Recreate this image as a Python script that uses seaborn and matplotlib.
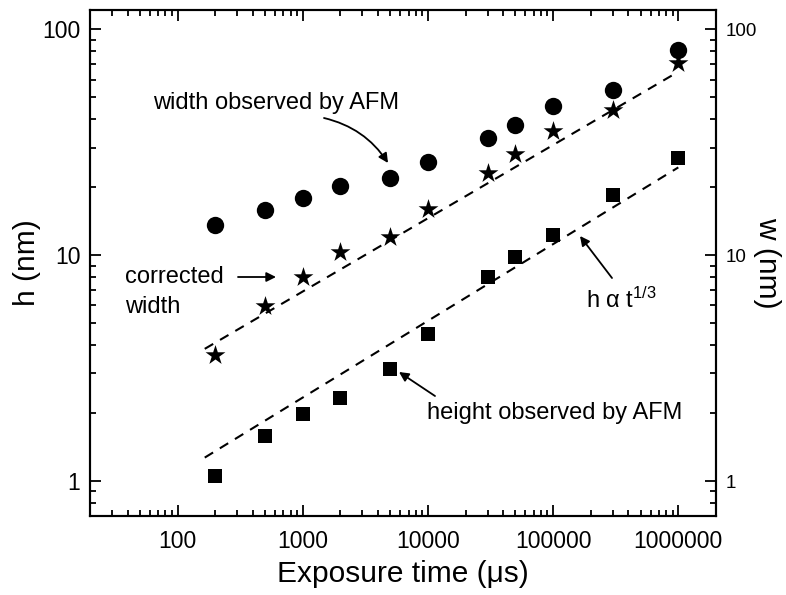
import matplotlib
matplotlib.use("Agg")
import matplotlib.pyplot as plt
import seaborn as sns
import pandas as pd
from matplotlib.ticker import LogLocator, NullFormatter, FixedLocator, FixedFormatter

# ---- data ----
exposure = [200, 500, 1000, 2000, 5000, 10000, 30000, 50000, 100000, 300000, 1000000]
width_afm = [13.6, 15.9, 17.9, 20.3, 22.1, 26.0, 33.1, 37.9, 45.6, 54.0, 81.3]
width_corrected = [3.62, 5.97, 8.03, 10.3, 12.0, 16.0, 23.1, 28.1, 35.6, 44.0, 71.0]
height_afm = [1.05, 1.58, 1.99, 2.34, 3.15, 4.50, 8.03, 9.84, 12.3, 18.5, 27.0]
fit_x = [165, 1000000]
fit_width = [3.85, 65.0]
fit_height = [1.27, 24.5]
x_ticks = [100, 1000, 10000, 100000, 1000000]
x_tick_labels = ["100", "1000", "10000", "100000", "1000000"]
y_ticks = [1, 10, 100]
y_tick_labels = ["1", "10", "100"]

sns.set_style("ticks")
plt.rcParams["font.family"] = ["Liberation Sans", "DejaVu Sans"]
plt.rcParams["mathtext.fontset"] = "custom"
plt.rcParams["mathtext.rm"] = "Liberation Sans"
plt.rcParams["mathtext.default"] = "regular"
for k in ["text.color", "axes.labelcolor", "xtick.color", "ytick.color", "axes.edgecolor"]:
    plt.rcParams[k] = "black"

df = pd.DataFrame({"t": exposure, "w_afm": width_afm, "w_corr": width_corrected, "h": height_afm})
fit = pd.DataFrame({"t": fit_x, "w": fit_width, "h": fit_height})

fig = plt.figure(figsize=(7.86, 5.95), dpi=100)
ax = fig.add_axes([90/786, 1-516/595, (716-90)/786, (516-10)/595])
ax.set_xscale("log")
ax.set_yscale("log")

dash = (4.7, 3.8)
sns.lineplot(data=fit, x="t", y="w", ax=ax, color="black", lw=1.5, dashes=False)
sns.lineplot(data=fit, x="t", y="h", ax=ax, color="black", lw=1.5, dashes=False)
for ln in ax.lines:
    ln.set_dashes(dash)

sns.scatterplot(data=df, x="t", y="w_afm", ax=ax, marker="o", s=12.5**2, color="black", edgecolor="black", linewidth=0)
sns.scatterplot(data=df, x="t", y="w_corr", ax=ax, marker="*", s=15**2, color="black", edgecolor="black", linewidth=0)
sns.scatterplot(data=df, x="t", y="h", ax=ax, marker="s", s=10.5**2, color="black", edgecolor="black", linewidth=0)

ax.set_xlim(20, 2e6)
ax.set_ylim(0.7, 122)

ax.xaxis.set_major_locator(FixedLocator(x_ticks))
ax.xaxis.set_major_formatter(FixedFormatter(x_tick_labels))
ax.xaxis.set_minor_locator(LogLocator(base=10, subs=range(2, 10), numticks=20))
ax.xaxis.set_minor_formatter(NullFormatter())
ax.yaxis.set_major_locator(FixedLocator(y_ticks))
ax.yaxis.set_major_formatter(FixedFormatter(y_tick_labels))
ax.yaxis.set_minor_locator(LogLocator(base=10, subs=range(2, 10), numticks=20))
ax.yaxis.set_minor_formatter(NullFormatter())

ax.tick_params(which="both", direction="in", top=True, right=False, width=1.3)
ax.tick_params(axis="x", which="major", length=8, labelsize=16.5, pad=10)
ax.tick_params(axis="y", which="major", length=8, labelsize=16.5, pad=7)
ax.tick_params(which="minor", length=4.5)
for s in ax.spines.values():
    s.set_linewidth(1.5)

ax.set_xlabel("Exposure time (μs)", fontsize=21.5, labelpad=5)
ax.set_ylabel("h (nm)", fontsize=21.5, labelpad=1)

ax2 = ax.twinx()
ax2.set_yscale("log")
ax2.set_ylim(ax.get_ylim())
ax2.yaxis.set_major_locator(FixedLocator(y_ticks))
ax2.yaxis.set_major_formatter(FixedFormatter(y_tick_labels))
ax2.yaxis.set_minor_locator(LogLocator(base=10, subs=range(2, 10), numticks=20))
ax2.yaxis.set_minor_formatter(NullFormatter())
ax2.tick_params(which="both", direction="in", width=1.3)
ax2.tick_params(which="major", length=8, labelsize=13.5, pad=7)
ax2.tick_params(which="minor", length=4.5)
ax2.set_ylabel("w (nm)", fontsize=21.5, rotation=270, labelpad=17)
for s in ax2.spines.values():
    s.set_linewidth(1.5)

# ---- annotations (in axes fraction) ----
def fx(px):
    return (px - 90) / (716 - 90)

def fy(py):
    return (516 - py) / (516 - 10)

fs = 17
ax.text(fx(153), fy(103), "width observed by AFM", fontsize=fs, transform=ax.transAxes, va="center", ha="left")
ax.annotate("", xy=(fx(388), fy(163)), xytext=(fx(324), fy(118)), xycoords="axes fraction",
            textcoords="axes fraction",
            arrowprops=dict(arrowstyle="-|>", color="black", lw=1.3, connectionstyle="arc3,rad=-0.2",
                            mutation_scale=14, shrinkA=0, shrinkB=0))
ax.text(fx(125), fy(277), "corrected", fontsize=fs, transform=ax.transAxes, va="center", ha="left")
ax.text(fx(125), fy(307), "width", fontsize=fs, transform=ax.transAxes, va="center", ha="left")
ax.annotate("", xy=(fx(276), fy(277)), xytext=(fx(238), fy(277)), xycoords="axes fraction",
            textcoords="axes fraction",
            arrowprops=dict(arrowstyle="-|>", color="black", lw=1.3, mutation_scale=14, shrinkA=0, shrinkB=0))
ax.text(fx(586), fy(300), r"h α t$^{1/3}$", fontsize=fs, transform=ax.transAxes, va="center", ha="left")
ax.annotate("", xy=(fx(580), fy(236)), xytext=(fx(612), fy(278)), xycoords="axes fraction",
            textcoords="axes fraction",
            arrowprops=dict(arrowstyle="-|>", color="black", lw=1.3, mutation_scale=14, shrinkA=0, shrinkB=0))
ax.text(fx(427), fy(413), "height observed by AFM", fontsize=fs, transform=ax.transAxes, va="center", ha="left")
ax.annotate("", xy=(fx(399), fy(372)), xytext=(fx(435), fy(396)), xycoords="axes fraction",
            textcoords="axes fraction",
            arrowprops=dict(arrowstyle="-|>", color="black", lw=1.3, mutation_scale=14, shrinkA=0, shrinkB=0))

fig.savefig("out.png", dpi=100)
